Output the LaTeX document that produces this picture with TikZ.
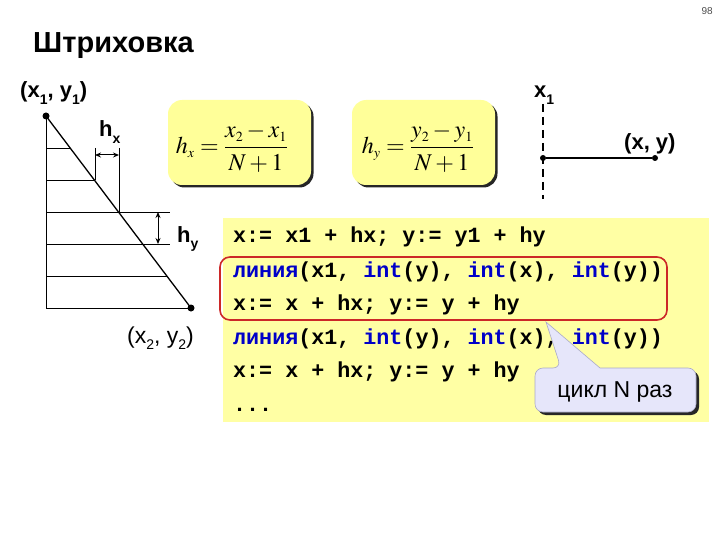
\documentclass[tikz,border=0pt]{standalone}
\usepackage{mathptmx}
\usepackage[no-math]{fontspec}
\setmainfont{Liberation Sans}
\newfontfamily\codefont{Liberation Mono}
\usetikzlibrary{arrows.meta}
\DeclareMathSizes{24}{24}{14}{10}
\definecolor{boxyellow}{RGB}{255,255,153}
\definecolor{codeyellow}{RGB}{255,255,164}
\definecolor{codeblue}{RGB}{0,0,200}
\definecolor{callfill}{RGB}{230,230,250}
\definecolor{callborder}{RGB}{170,170,200}
\definecolor{loopred}{RGB}{204,40,40}
\newcommand\sbs[1]{\raisebox{-0.28em}{\fontsize{14}{14}\selectfont #1}}
\newcommand\kw[1]{\textcolor{codeblue}{#1}}
\tikzset{
  lbl/.style={inner sep=0pt, anchor=base west, font=\fontsize{22}{26}\selectfont\bfseries},
  lblreg/.style={inner sep=0pt, anchor=base west, font=\fontsize{23}{26}\selectfont},
  codeline/.style={inner sep=0pt, anchor=base west, font=\fontsize{21.7}{26}\selectfont\codefont\bfseries},
  fbox/.style={fill=boxyellow, rounded corners=14pt},
  fshadow/.style={fill=black!85, rounded corners=14pt},
  hatch/.style={line width=0.9pt},
  dimarrow/.style={line width=1pt, {Stealth[length=6pt,width=5pt]}-{Stealth[length=6pt,width=5pt]}},
  dotnode/.style={circle, fill=black, inner sep=0pt, minimum size=7pt},
}
\begin{document}
\begin{tikzpicture}[x=1pt,y=-1pt]
\useasboundingbox (0,0) rectangle (720,540);
% page number and title
\node[inner sep=0pt, anchor=base east, font=\fontsize{10}{12}\selectfont, text=black!70] (pg) at (713,15) {98};
\node[inner sep=0pt, anchor=base west, font=\fontsize{29}{34}\selectfont\bfseries] (title) at (33,53) {Штриховка};

% left figure
\coordinate (A) at (46,116);
\coordinate (B) at (191,308);
\coordinate (C) at (46,308);
\draw[hatch] (A) -- (C) -- (B);
\draw[line width=1.3pt] (A) -- (B);
\node[dotnode] (dA) at (A) {};
\node[dotnode] (dB) at (B) {};
\coordinate (h1a) at (46,148);  \coordinate (h1b) at (70,148);
\coordinate (h2a) at (46,180);  \coordinate (h2b) at (94,180);
\coordinate (h3a) at (46,212);  \coordinate (h3b) at (170,212);
\coordinate (h4a) at (46,244);  \coordinate (h4b) at (170,244);
\coordinate (h5a) at (46,276);  \coordinate (h5b) at (167,276);
\draw[hatch] (h1a) -- (h1b);
\draw[hatch] (h2a) -- (h2b);
\draw[hatch] (h3a) -- (h3b);
\draw[hatch] (h4a) -- (h4b);
\draw[hatch] (h5a) -- (h5b);
\coordinate (v1a) at (95,148);  \coordinate (v1b) at (95,180);
\coordinate (v2a) at (119,148); \coordinate (v2b) at (119,212);
\draw[hatch] (v1a) -- (v1b);
\draw[hatch] (v2a) -- (v2b);
\coordinate (hxl) at (95,155);  \coordinate (hxr) at (119,155);
\draw[dimarrow] (hxl) -- (hxr);
\coordinate (hyt) at (158,212); \coordinate (hyb) at (158,244);
\draw[dimarrow] (hyt) -- (hyb);
\node[lbl] (lp1) at (20,98) {(x\sbs{1}, y\sbs{1})};
\node[lbl] (lhx) at (99,137) {h\sbs{x}};
\node[lbl] (lhy) at (177,242) {h\sbs{y}};
\node[lblreg] (lp2) at (127,343) {(x\sbs{2}, y\sbs{2})};

% formula boxes
\fill[fshadow] (170.5,102.5) rectangle (313.5,187.5);
\node[fbox, minimum width=143pt, minimum height=85pt, inner sep=0pt] (fx) at (239.5,142.5) {};
\node[inner sep=0pt, font=\fontsize{24}{28}\selectfont] (fxt) at (232,148) {$\displaystyle h_x=\frac{x_2-x_1}{N+1}$};
\fill[fshadow] (354.5,102.5) rectangle (497.5,187.5);
\node[fbox, minimum width=143pt, minimum height=85pt, inner sep=0pt] (fy) at (423.5,142.5) {};
\node[inner sep=0pt, font=\fontsize{24}{28}\selectfont] (fyt) at (418,148) {$\displaystyle h_y=\frac{y_2-y_1}{N+1}$};

% right figure
\coordinate (dt) at (543,104);
\coordinate (db) at (543,199);
\draw[line width=1.3pt, dash pattern=on 8pt off 5pt] (dt) -- (db);
\node[dotnode, minimum size=6pt] (q1) at (543,158) {};
\node[dotnode, minimum size=6pt] (q2) at (655,158) {};
\draw[line width=1.5pt] (q1) -- (q2);
\node[lbl] (lx1) at (534,98) {x\sbs{1}};
\node[lbl] (lxy) at (624,150) {(x, y)};

% code box
\fill[codeyellow] (223,218) rectangle (709,422);
\node[codeline] (c1) at (233,243) {x:= x1 + hx; y:= y1 + hy};
\node[codeline] (c2) at (233,277) {\kw{линия}(x1, \kw{int}(y), \kw{int}(x), \kw{int}(y))};
\node[codeline] (c3) at (233,310) {x:= x + hx; y:= y + hy};
\node[codeline] (c4) at (233,344) {\kw{линия}(x1, \kw{int}(y), \kw{int}(x), \kw{int}(y))};
\node[codeline] (c5) at (233,377) {x:= x + hx; y:= y + hy};
\node[codeline] (c6) at (233,411) {...};
\draw[loopred, line width=1.6pt, rounded corners=10pt] (220,257) rectangle (667,320);

% callout
\fill[black!85, rounded corners=8pt] (538,371) rectangle (699,415);
\draw[callborder, fill=callfill, line width=0.6pt, rounded corners=8pt]
  (600,368) -- (696,368) -- (696,412) -- (535,412) -- (535,368) -- (561,368)
  [sharp corners] -- (546,322) -- cycle;
\node[inner sep=0pt, anchor=base, font=\fontsize{23}{26}\selectfont] (loop) at (615,397) {цикл N раз};
\end{tikzpicture}
\end{document}
